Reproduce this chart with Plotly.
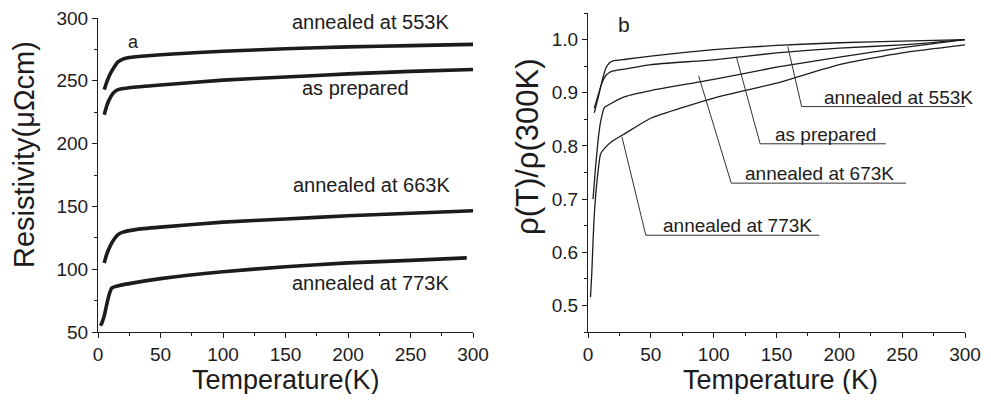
import plotly.graph_objects as go

# ---------------- Panel a: resistivity (µΩcm) ----------------
T_553 = [5, 7, 10, 13, 16, 20, 25, 40, 60, 100, 150, 200, 250, 300]
R_553 = [243, 249, 256, 261, 265, 267.3, 268.5, 270, 271.3, 273.5, 275.5, 277, 278, 279]

T_prep = [5, 7, 9, 12, 15, 18, 25, 50, 100, 150, 200, 250, 300]
R_prep = [223, 230, 235, 240, 242.5, 243.5, 244.5, 246.7, 250.5, 253, 255.5, 257.5, 259]

T_663 = [5, 7, 10, 13, 16, 20, 30, 50, 100, 150, 200, 250, 300]
R_663 = [105, 112, 119, 124, 127.5, 129.5, 131.5, 133.5, 137.5, 140, 142.5, 144.5, 146.5]

T_773 = [2, 3, 5, 7, 9, 11, 15, 25, 50, 100, 150, 200, 250, 295]
R_773 = [55, 57, 63, 72, 80, 85, 86.5, 88.5, 92.5, 98, 102, 105, 107, 109]

# ---------------- Panel b: normalised rho(T)/rho(300K) ----------------
T_553n = [5, 8, 11, 14, 17, 20, 30, 50, 100, 150, 200, 250, 300]
N_553n = [0.862, 0.89, 0.92, 0.945, 0.956, 0.96, 0.963, 0.969, 0.981, 0.989, 0.994, 0.997, 1.0]

T_prepn = [5, 8, 11, 14, 17, 20, 30, 50, 100, 150, 200, 250, 300]
N_prepn = [0.871, 0.895, 0.918, 0.932, 0.938, 0.941, 0.945, 0.953, 0.962, 0.975, 0.984, 0.99, 1.0]

T_673n = [4, 6, 8, 10, 13, 17, 30, 50, 100, 150, 200, 250, 300]
N_673n = [0.70, 0.76, 0.81, 0.845, 0.872, 0.878, 0.893, 0.904, 0.925, 0.948, 0.967, 0.985, 1.0]

T_773n = [2, 3, 4, 5, 7, 10, 13, 20, 30, 50, 100, 150, 200, 250, 300]
N_773n = [0.516, 0.56, 0.62, 0.67, 0.73, 0.785, 0.795, 0.81, 0.824, 0.852, 0.89, 0.918, 0.953, 0.975, 0.99]

# labels of panel a: (text, T, value)
labels_a = ["annealed at 553K", "as prepared", "annealed at 663K", "annealed at 773K"]
labels_a_T = [218, 206, 219, 218]
labels_a_v = [296.8, 244.3, 167, 89]

# labels of panel b with leader lines
labels_b = ["annealed at 553K", "as prepared", "annealed at 673K", "annealed at 773K"]
lead_T0 = [159, 118, 88, 27]          # point on the curve
lead_v0 = [0.987, 0.968, 0.932, 0.817]
lead_T1 = [170, 137, 114, 46]         # elbow (start of underline)
lead_v1 = [0.874, 0.804, 0.730, 0.632]
lead_T2 = [300, 237, 253, 184]        # end of underline
text_T = [186, 147, 123, 58]

ink = "#1c1c1c"
font_family = "Liberation Sans, Arial, sans-serif"

fig = go.Figure()

for T, R in [(T_553, R_553), (T_prep, R_prep), (T_663, R_663), (T_773, R_773)]:
    fig.add_trace(go.Scatter(x=T, y=R, mode="lines", line=dict(color=ink, width=3.6, shape="spline", smoothing=0.6),
                             xaxis="x", yaxis="y", showlegend=False, hoverinfo="skip"))

for T, N in [(T_553n, N_553n), (T_prepn, N_prepn), (T_673n, N_673n), (T_773n, N_773n)]:
    fig.add_trace(go.Scatter(x=T, y=N, mode="lines", line=dict(color=ink, width=1.3, shape="spline", smoothing=0.5),
                             xaxis="x2", yaxis="y2", showlegend=False, hoverinfo="skip"))

# the page body has an 8px margin, so the figure starts at (8, 8) in the window
OFF = 8
W, H = 975, 386
def px(x):
    return (x - OFF) / W
def py(y):
    return 1 - (y - OFF) / H

axis_common = dict(showline=True, linecolor=ink, linewidth=1.2, showgrid=False, zeroline=False,
                   ticks="outside", ticklen=5, tickwidth=1.2, tickcolor=ink,
                   tickfont=dict(family=font_family, size=19, color=ink),
                   ticklabeloverflow="allow",
                   minor=dict(ticks="outside", ticklen=3, tickwidth=1, tickcolor=ink), mirror=False)

fig.update_layout(
    width=W, height=H,
    margin=dict(l=0, r=0, t=0, b=0, autoexpand=False),
    paper_bgcolor="white", plot_bgcolor="white",
    font=dict(family=font_family, color=ink),
    xaxis=dict(domain=[px(98), px(473)], range=[0, 300], dtick=50, minor_dtick=25, anchor="y", **axis_common),
    yaxis=dict(domain=[py(332), py(18)], range=[50, 300], dtick=50, minor_dtick=25, anchor="x", **axis_common),
    xaxis2=dict(domain=[px(588), px(965)], range=[0, 300], dtick=50, minor_dtick=25, anchor="y2", **axis_common),
    yaxis2=dict(domain=[py(332), py(13)], range=[0.45, 1.05], dtick=0.1, tick0=0.5, tickformat=".1f",
                minor_dtick=0.05, anchor="x2", **axis_common),
)

ann = []
# axis titles
ann.append(dict(text="Temperature(K)", x=px(286), y=0, xref="paper", yref="paper", showarrow=False,
                font=dict(size=27), xanchor="center", yanchor="bottom", yshift=-3))
ann.append(dict(text="Temperature (K)", x=px(780), y=0, xref="paper", yref="paper", showarrow=False,
                font=dict(size=27), xanchor="center", yanchor="bottom", yshift=-3))
ann.append(dict(text="Resistivity(μΩcm)", x=px(24), y=py(155), xref="paper", yref="paper", showarrow=False,
                font=dict(size=29), textangle=-90, xanchor="center", yanchor="middle"))
ann.append(dict(text="ρ(T)/ρ(300K)", x=px(528), y=py(147), xref="paper", yref="paper", showarrow=False,
                font=dict(size=31), textangle=-90, xanchor="center", yanchor="middle"))
# panel letters
ann.append(dict(text="a", x=28, y=281, xref="x", yref="y", showarrow=False, font=dict(size=18)))
ann.append(dict(text="b", x=29, y=1.028, xref="x2", yref="y2", showarrow=False, font=dict(size=21)))

for t, xv, yv in zip(labels_a, labels_a_T, labels_a_v):
    ann.append(dict(text=t, x=xv, y=yv, xref="x", yref="y", showarrow=False, font=dict(size=20),
                    xanchor="center", yanchor="middle"))

shapes = []
for t, a0, b0, a1, b1, a2, tx in zip(labels_b, lead_T0, lead_v0, lead_T1, lead_v1, lead_T2, text_T):
    ann.append(dict(text=t, x=tx, y=b1, xref="x2", yref="y2", showarrow=False, font=dict(size=19),
                    xanchor="left", yanchor="bottom", yshift=-3))
    shapes.append(dict(type="line", xref="x2", yref="y2", x0=a0, y0=b0, x1=a1, y1=b1,
                       line=dict(color="#333333", width=1)))
    shapes.append(dict(type="line", xref="x2", yref="y2", x0=a1, y0=b1, x1=a2, y1=b1,
                       line=dict(color="#333333", width=1)))

fig.update_layout(annotations=ann, shapes=shapes)

fig.write_html("out.html")
